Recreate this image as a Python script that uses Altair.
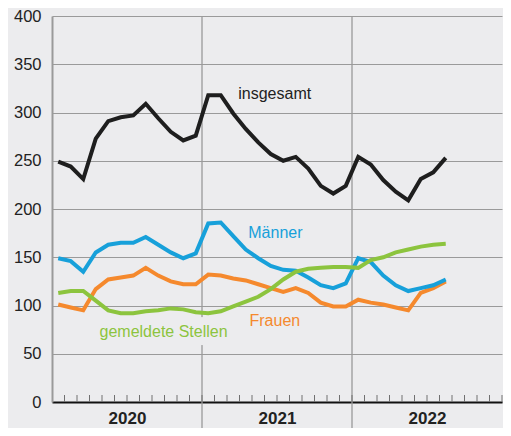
import altair as alt
import pandas as pd

# --- data (monthly, Jan 2020 .. Aug 2022) ---
years = ["2020", "2021", "2022"]
insgesamt = [249, 244, 231, 273, 291, 295, 297, 309, 294, 280, 271, 276,
             318, 318, 299, 283, 269, 257, 250, 254, 242, 224, 216, 224,
             254, 246, 230, 218, 209, 231, 238, 253]
maenner = [149, 146, 135, 155, 163, 165, 165, 171, 163, 155, 149, 154,
           185, 186, 172, 158, 149, 141, 137, 136, 129, 121, 118, 123,
           149, 145, 131, 121, 115, 118, 121, 127]
frauen = [101, 98, 95, 117, 127, 129, 131, 139, 131, 125, 122, 122,
          132, 131, 128, 126, 122, 118, 114, 118, 113, 103, 99, 99,
          106, 103, 101, 98, 95, 113, 118, 125]
stellen = [113, 115, 115, 105, 95, 92, 92, 94, 95, 97, 96, 93,
           92, 94, 99, 104, 109, 117, 127, 135, 138, 139, 140, 140,
           139, 147, 150, 155, 158, 161, 163, 164]

series_names = ["Frauen", "Männer", "gemeldete Stellen", "insgesamt"]
series_values = [frauen, maenner, stellen, insgesamt]
series_colors = ["#f5892d", "#17a0da", "#8cc43e", "#1e1e1e"]

label_text = ["insgesamt", "Männer", "Frauen", "gemeldete Stellen"]
label_x = [14.9, 15.7, 15.8, 3.8]
label_y = [314, 170, 79, 67]
label_color = ["#222222", "#17a0da", "#f5892d", "#8cc43e"]

BG = "#ececee"
GRID = "#9a9a9a"
FONT = "Liberation Sans"

rows = []
for name, vals in zip(series_names, series_values):
    for i, v in enumerate(vals):
        rows.append({"serie": name, "m": i + 0.5, "v": v, "ord": series_names.index(name)})
df = pd.DataFrame(rows)

n_months = 12 * len(years)
xscale = alt.Scale(domain=[0, n_months], nice=False, zero=False)
yscale = alt.Scale(domain=[0, 400], nice=False)

H = 386
W = 450

year_expr = " : ".join(
    f"datum.value == {12 * k + 6} ? '{y}'" for k, y in enumerate(years)
) + " : ''"

# year separator lines (extend below the axis)
year_lines = alt.Chart(pd.DataFrame({"b": [12 * k for k in range(1, len(years))]})).mark_rule(
    color=GRID, strokeWidth=1.3, clip=False
).encode(
    x=alt.X("b:Q", scale=xscale),
    y=alt.value(0),
    y2=alt.value(H + 30),
)

# small label background that interrupts the separator line
label_bg = alt.Chart(pd.DataFrame({"x0": [11.6], "x1": [12.4], "y0": [59], "y1": [88]})).mark_rect(
    color=BG
).encode(
    x=alt.X("x0:Q", scale=xscale),
    x2="x1:Q",
    y=alt.Y("y0:Q", scale=yscale),
    y2="y1:Q",
)

# month ticks pointing up from the axis
month_ticks = alt.Chart(pd.DataFrame({"t": list(range(1, n_months + 1))})).mark_rule(
    color="#707070", strokeWidth=1
).encode(
    x=alt.X("t:Q", scale=xscale),
    y=alt.value(H - 7),
    y2=alt.value(H),
)

lines = alt.Chart(df).mark_line(strokeWidth=4, strokeJoin="miter").encode(
    x=alt.X(
        "m:Q",
        scale=xscale,
        axis=alt.Axis(
            values=[12 * k + 6 for k in range(len(years))],
            labelExpr=year_expr,
            grid=False,
            ticks=False,
            tickSize=0,
            domainColor="#111111",
            domainWidth=2,
            labelFontSize=17,
            labelFontWeight="bold",
            labelColor="#222222",
            labelFont=FONT,
            labelPadding=8,
            title=None,
        ),
    ),
    y=alt.Y(
        "v:Q",
        scale=yscale,
        axis=alt.Axis(
            values=list(range(0, 401, 50)),
            grid=True,
            gridColor=GRID,
            gridWidth=1.2,
            ticks=False,
            tickSize=0,
            domainColor=GRID,
            domainWidth=2,
            labelFontSize=16.5,
            labelColor="#222222",
            labelFont=FONT,
            labelPadding=11,
            title=None,
        ),
    ),
    color=alt.Color("serie:N", scale=alt.Scale(domain=series_names, range=series_colors), legend=None),
    order=alt.Order("ord:Q"),
    detail="serie:N",
)

labels = alt.Chart(pd.DataFrame({"t": label_text, "x": label_x, "y": label_y, "c": label_color})).mark_text(
    align="left", baseline="alphabetic", fontSize=16, font=FONT
).encode(
    x=alt.X("x:Q", scale=xscale),
    y=alt.Y("y:Q", scale=yscale),
    text="t:N",
    color=alt.Color("c:N", scale=None),
)

chart = alt.layer(year_lines, label_bg, month_ticks, lines, labels).properties(
    width=W,
    height=H,
    background=BG,
    padding={"left": 44, "top": 8, "right": 1, "bottom": 26},
    autosize=alt.AutoSizeParams(type="none"),
).configure_view(stroke=None).resolve_scale(color="independent")

chart.save("out.html", embed_options={"renderer": "svg", "actions": False})
